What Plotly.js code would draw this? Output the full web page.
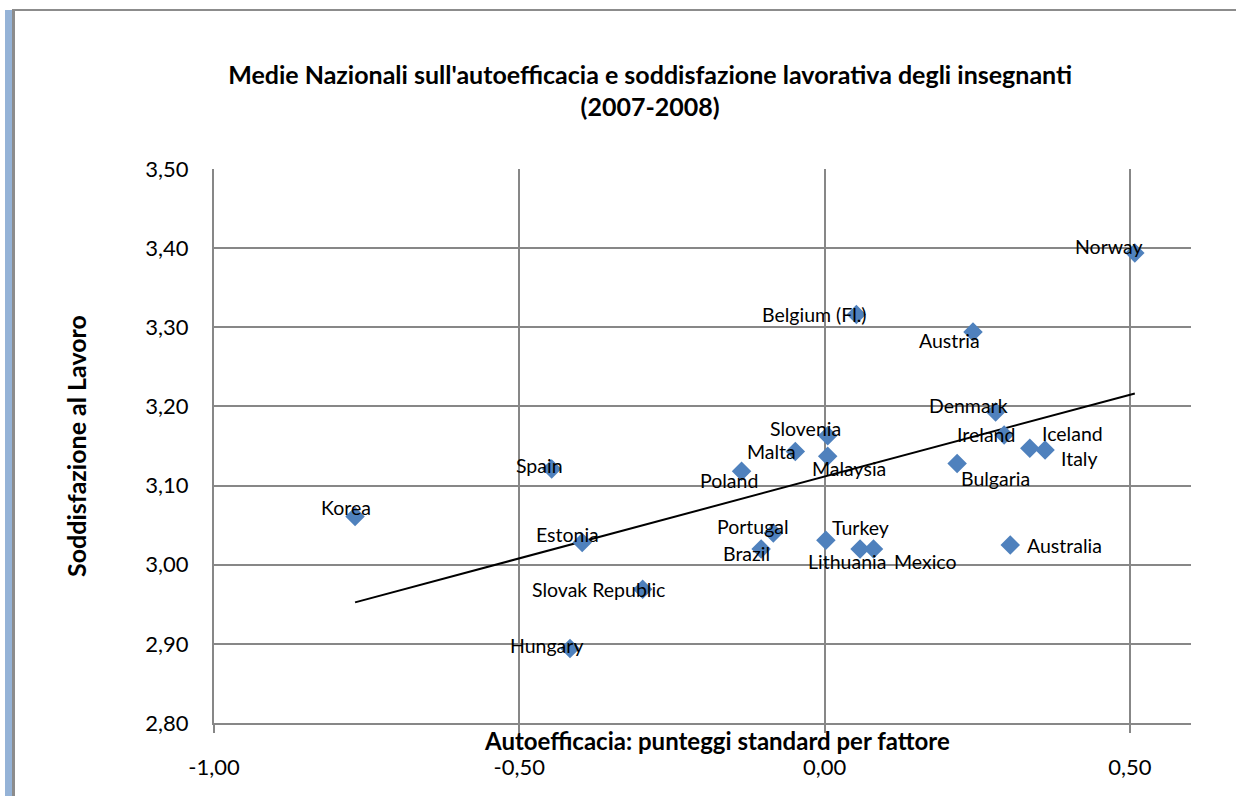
<!DOCTYPE html>
<html>
<head>
<meta charset="utf-8">
<script src="https://cdn.plot.ly/plotly-3.0.1.min.js"></script>
<style>
  html, body { margin: 0; padding: 0; background: #ffffff; }
  #wrap { position: relative; width: 1236px; height: 796px; overflow: hidden; }
  #chart { position: absolute; left: 0; top: 0; width: 1236px; height: 796px; }
  .frame { position: absolute; pointer-events: none; }
</style>
</head>
<body>
<div id="wrap">
  <div id="chart"></div>
  <div class="frame" style="left:5px;top:10px;width:7px;height:786px;background:#95b3d7;"></div>
  <div class="frame" style="left:12px;top:9px;width:3px;height:787px;background:#8c8c8c;"></div>
  <div class="frame" style="left:12px;top:9px;width:1224px;height:2px;background:#8c8c8c;"></div>
</div>
<script>
// ---- data ----
var countries = ["Norway", "Belgium (Fl.)", "Austria", "Denmark", "Ireland", "Iceland", "Italy",
  "Bulgaria", "Slovenia", "Malta", "Malaysia", "Poland", "Spain", "Korea", "Estonia",
  "Portugal", "Brazil", "Turkey", "Lithuania", "Mexico", "Australia", "Slovak Republic", "Hungary"];
var autoefficacia = [0.508, 0.052, 0.243, 0.280, 0.294, 0.336, 0.361,
  0.217, 0.005, -0.048, 0.005, -0.136, -0.447, -0.769, -0.397,
  -0.084, -0.104, 0.002, 0.058, 0.080, 0.304, -0.298, -0.417];
var soddisfazione = [3.394, 3.316, 3.294, 3.193, 3.164, 3.147, 3.145,
  3.128, 3.163, 3.143, 3.137, 3.118, 3.121, 3.061, 3.028,
  3.040, 3.020, 3.031, 3.020, 3.020, 3.025, 2.969, 2.894];

// axis ticks and labels
var xTickVals = [-1, -0.5, 0, 0.5];
var xTickText = ["-1,00", "-0,50", "0,00", "0,50"];
var yTickVals = [2.8, 2.9, 3.0, 3.1, 3.2, 3.3, 3.4, 3.5];
var yTickText = ["2,80", "2,90", "3,00", "3,10", "3,20", "3,30", "3,40", "3,50"];

// label offsets (pixels, right / down) for each data label
var labelDx = [-26, -42, -24, -27, -18, 43, 34, 38, -22, -24, 21, -13, -12, -9, -15, -20, -15, 35, -13, 52, 54, -44, -23];
var labelDy = [-6, 0, 8, -6, 0, -15, 9, 15, -7, 0, 12, 9, -3, -9, -8, -7, 5, -13, 13, 13, 1, 0, -3];

var titleText = "Medie Nazionali sull'autoefficacia e soddisfazione lavorativa degli insegnanti<br>(2007-2008)";
var xTitle = "Autoefficacia: punteggi standard per fattore";
var yTitle = "Soddisfazione al Lavoro";

// ---- linear trendline (least squares) ----
var n = autoefficacia.length, sx = 0, sy = 0, sxx = 0, sxy = 0;
for (var i = 0; i < n; i++) {
  sx += autoefficacia[i]; sy += soddisfazione[i];
  sxx += autoefficacia[i] * autoefficacia[i]; sxy += autoefficacia[i] * soddisfazione[i];
}
var slope = (n * sxy - sx * sy) / (n * sxx - sx * sx);
var icpt = (sy - slope * sx) / n;
var xmin = Math.min.apply(null, autoefficacia), xmax = Math.max.apply(null, autoefficacia);
var trendX = [xmin, xmax];
var trendY = [icpt + slope * xmin, icpt + slope * xmax];

var FONT = "Lato, 'Open Sans', sans-serif";

var traces = [
  {
    x: trendX, y: trendY, type: "scatter", mode: "lines",
    line: { color: "#000000", width: 2 }, hoverinfo: "skip", showlegend: false
  },
  {
    x: autoefficacia, y: soddisfazione, type: "scatter", mode: "markers",
    text: countries, hoverinfo: "text",
    marker: { symbol: "diamond", size: 15, color: "#4f81bd", line: { width: 0 } },
    showlegend: false
  }
];

var annotations = countries.map(function (c, i) {
  return {
    x: autoefficacia[i], y: soddisfazione[i], xref: "x", yref: "y",
    text: c, showarrow: false, xanchor: "center", yanchor: "middle",
    xshift: labelDx[i], yshift: -labelDy[i],
    font: { family: FONT, size: 19.5, color: "#000000" }
  };
});
annotations.push({
  xref: "paper", yref: "paper", x: 0.515, y: 0, xanchor: "center", yanchor: "middle",
  yshift: -17, text: "<b>" + xTitle + "</b>", showarrow: false,
  font: { family: FONT, size: 24, color: "#000000" }
});
annotations.push({
  xref: "paper", yref: "paper", x: 0, y: 0.5, xanchor: "center", yanchor: "middle",
  xshift: -138, textangle: -90, text: "<b>" + yTitle + "</b>", showarrow: false,
  font: { family: FONT, size: 25, color: "#000000" }
});

var layout = {
  width: 1236, height: 796,
  margin: { l: 214, r: 45, t: 169, b: 73, pad: 0 },
  paper_bgcolor: "#ffffff", plot_bgcolor: "#ffffff",
  showlegend: false,
  title: {
    text: "<b>" + titleText + "</b>",
    xref: "container", yref: "container", x: 0.526, y: 0.8945,
    xanchor: "center", yanchor: "middle",
    font: { family: FONT, size: 25, color: "#000000" }
  },
  xaxis: {
    range: [-1, 0.6], tickmode: "array", tickvals: xTickVals, ticktext: xTickText,
    showgrid: true, gridcolor: "#878787", gridwidth: 2,
    zeroline: false, showline: true, linecolor: "#878787", linewidth: 2,
    ticks: "outside", ticklen: 8, tickwidth: 2, tickcolor: "#878787",
    ticklabelstandoff: 16,
    tickfont: { family: FONT, size: 22, color: "#000000" },
    fixedrange: true
  },
  yaxis: {
    range: [2.8, 3.5], tickmode: "array", tickvals: yTickVals, ticktext: yTickText,
    showgrid: true, gridcolor: "#878787", gridwidth: 2,
    zeroline: false, showline: true, linecolor: "#878787", linewidth: 2,
    ticks: "", ticklabelstandoff: 19,
    tickfont: { family: FONT, size: 22, color: "#000000" },
    fixedrange: true
  },
  annotations: annotations
};

Plotly.newPlot("chart", traces, layout, { displayModeBar: false, staticPlot: true });
</script>
</body>
</html>
